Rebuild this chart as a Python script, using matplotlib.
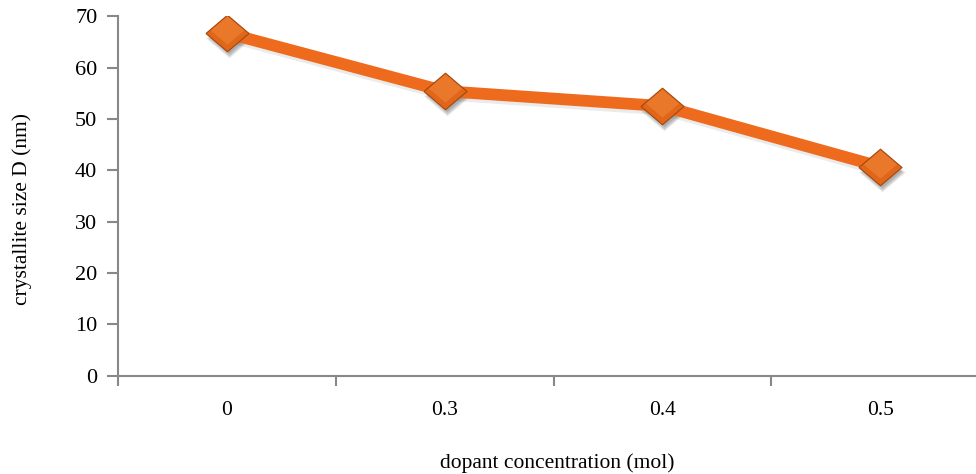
import matplotlib
matplotlib.use("Agg")
import matplotlib.pyplot as plt
import matplotlib.transforms as mtransforms

categories = ["0", "0.3", "0.4", "0.5"]
crystallite_size = [66.7, 55.4, 52.5, 40.7]

plt.rcParams['font.family'] = ['Liberation Serif', 'DejaVu Serif']

fig = plt.figure(figsize=(9.76, 4.74), dpi=100)
ax = fig.add_axes([0.121, 0.207, 0.879, 0.759])

x = list(range(len(categories)))
diamond = [(-1, 0), (0, 0.85), (1, 0), (0, -0.85), (-1, 0)]

# soft shadow
for dx, dy, ms, a in [(2, -5, 34, 0.06), (2, -5, 32, 0.08), (2, -5, 30, 0.10), (2, -4, 28, 0.12)]:
    tr = mtransforms.offset_copy(ax.transData, fig=fig, x=dx, y=dy, units='dots')
    ax.plot(x, crystallite_size, linestyle='none', marker=diamond, markersize=ms,
            markerfacecolor='black', markeredgecolor='none', alpha=a, transform=tr, zorder=2)
tr_line = mtransforms.offset_copy(ax.transData, fig=fig, x=1, y=-3, units='dots')
ax.plot(x, crystallite_size, color='black', alpha=0.08, linewidth=9, transform=tr_line, zorder=2)

ax.plot(x, crystallite_size, color='#EE6B1E', linewidth=8.5, solid_capstyle='butt', zorder=3)
ax.plot(x, crystallite_size, linestyle='none', marker=diamond, markersize=31,
        markerfacecolor='#E0661A', markeredgecolor='#A4470C', markeredgewidth=0.8, zorder=4)
# highlight for gradient look
tr_hi = mtransforms.offset_copy(ax.transData, fig=fig, x=0, y=3, units='dots')
ax.plot(x, crystallite_size, linestyle='none', marker=diamond, markersize=24,
        markerfacecolor='#F58A3C', markeredgecolor='none', alpha=0.5, transform=tr_hi, zorder=5)

ax.set_xlim(-0.5, 3.44)
ax.set_ylim(0, 70)
ax.set_yticks(range(0, 71, 10))
ax.set_xticks(x)
ax.set_xticklabels(categories)
ax.set_xticks([-0.5, 0.5, 1.5, 2.5], minor=True)
ax.tick_params(axis='x', which='major', length=0, pad=18, labelsize=15.5)
ax.tick_params(axis='x', which='minor', length=7, width=1.5, color='#888888', direction='out')
ax.tick_params(axis='y', length=8, width=1.5, color='#888888', labelsize=16, pad=7)

for s in ['top', 'right']:
    ax.spines[s].set_visible(False)
for s in ['left', 'bottom']:
    ax.spines[s].set_color('#888888')
    ax.spines[s].set_linewidth(1.5)

ax.set_ylabel('crystallite size D (nm)', fontsize=15.5, va='center')
ax.yaxis.set_label_coords(-0.112, 0.464)
ax.set_xlabel('dopant concentration (mol)', fontsize=15.5, va='center')
ax.xaxis.set_label_coords(0.512, -0.242)

fig.savefig('out.png', dpi=100)
